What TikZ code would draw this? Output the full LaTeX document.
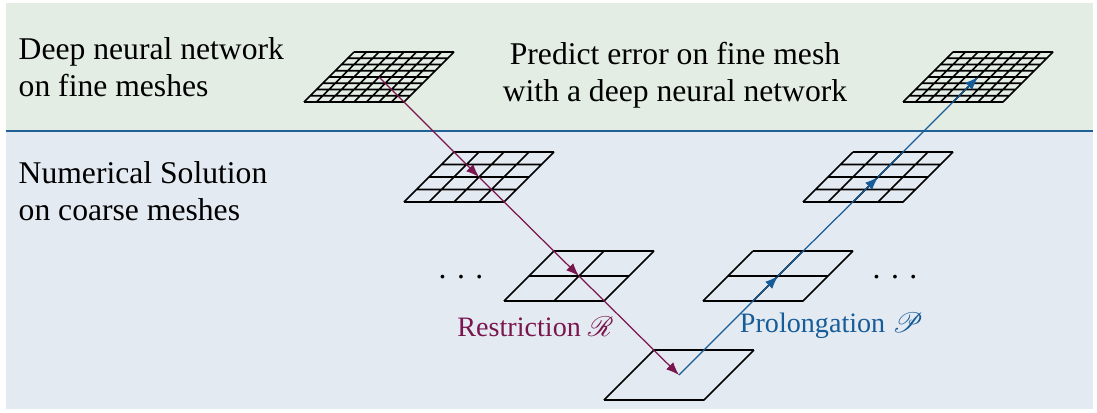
\documentclass[tikz,border=0pt]{standalone}
\usepackage{fontspec}
\setmainfont{Liberation Serif}
\usepackage{mathrsfs}
\usepackage{tikz}
\tikzset{>=latex}
\usetikzlibrary{arrows.meta}
\definecolor{restrcol}{RGB}{122,22,78}
\definecolor{prolcol}{RGB}{22,92,152}
\definecolor{finebg}{RGB}{227,237,227}
\definecolor{coarsebg}{RGB}{228,234,242}
\definecolor{sepline}{RGB}{32,96,150}

\begin{document}
\begin{tikzpicture}[
                mesh/.style={line width=0.45pt},
                restr/.style={draw=restrcol, line width=0.35pt, -{Latex[length=1.3mm,width=1mm]}},
                prol/.style={draw=prolcol, line width=0.35pt, -{Latex[length=1.3mm,width=1mm]}},
                caption/.style={font=\fontsize{9}{10.3}\selectfont, inner sep=0pt},
                arrowlabel/.style={font=\fontsize{8}{9.6}\selectfont, inner sep=0pt}
            ]
            \useasboundingbox (0,0) rectangle (10.97,-4.12);
            \fill[finebg] (0.06,-0.03) rectangle (10.93,-1.31);
            \fill[coarsebg] (0.06,-1.31) rectangle (10.93,-4.09);
            \draw[sepline, line width=0.6pt] (0.06,-1.31) -- (10.93,-1.31);
            \foreach[evaluate=\n as \s using {1/\n}] \nm/\x/\y/\n in {m1/3.04/-1.02/8,m2/4.04/-2.02/4,m3/5.04/-3.01/2,m4/6.04/-4.00/1,p3/7.03/-3.01/2,p2/8.03/-2.02/4,p1/9.03/-1.02/8} {
                \begin{scope}[cm={1,0,0.5,0.5,(\x,\y)}]
                    \draw[mesh, step=\s] (0,0) grid (1,1);
                    \coordinate (\nm) at (0.5,0.5);
                \end{scope}
            }
            \foreach \a/\b in {m1/m2,m2/m3,m3/m4} \draw[restr] (\a) -- (\b);
            \foreach \a/\b in {m4/p3,p3/p2,p2/p1} \draw[prol] (\a) -- (\b);
            \node[caption, anchor=base west, align=left] (finetxt) at (0.18,-0.96) {Deep neural network\\on fine meshes};
            \node[caption, anchor=base, align=center] (predtxt) at (6.75,-1.01) {Predict error on fine mesh\\with a deep neural network};
            \node[caption, anchor=base west, align=left] (coarsetxt) at (0.18,-2.20) {Numerical Solution\\on coarse meshes};
            \node[caption, anchor=base] (ldots) at (4.61,-2.78) {. . .};
            \node[caption, anchor=base] (rdots) at (8.95,-2.78) {. . .};
            \node[arrowlabel, anchor=base, text=restrcol] (restrlbl) at (5.355,-3.36) {Restriction $\mathscr{R}$};
            \node[arrowlabel, anchor=base, text=prolcol] (prollbl) at (8.315,-3.32) {Prolongation $\mathscr{P}$};
        \end{tikzpicture}
\end{document}
